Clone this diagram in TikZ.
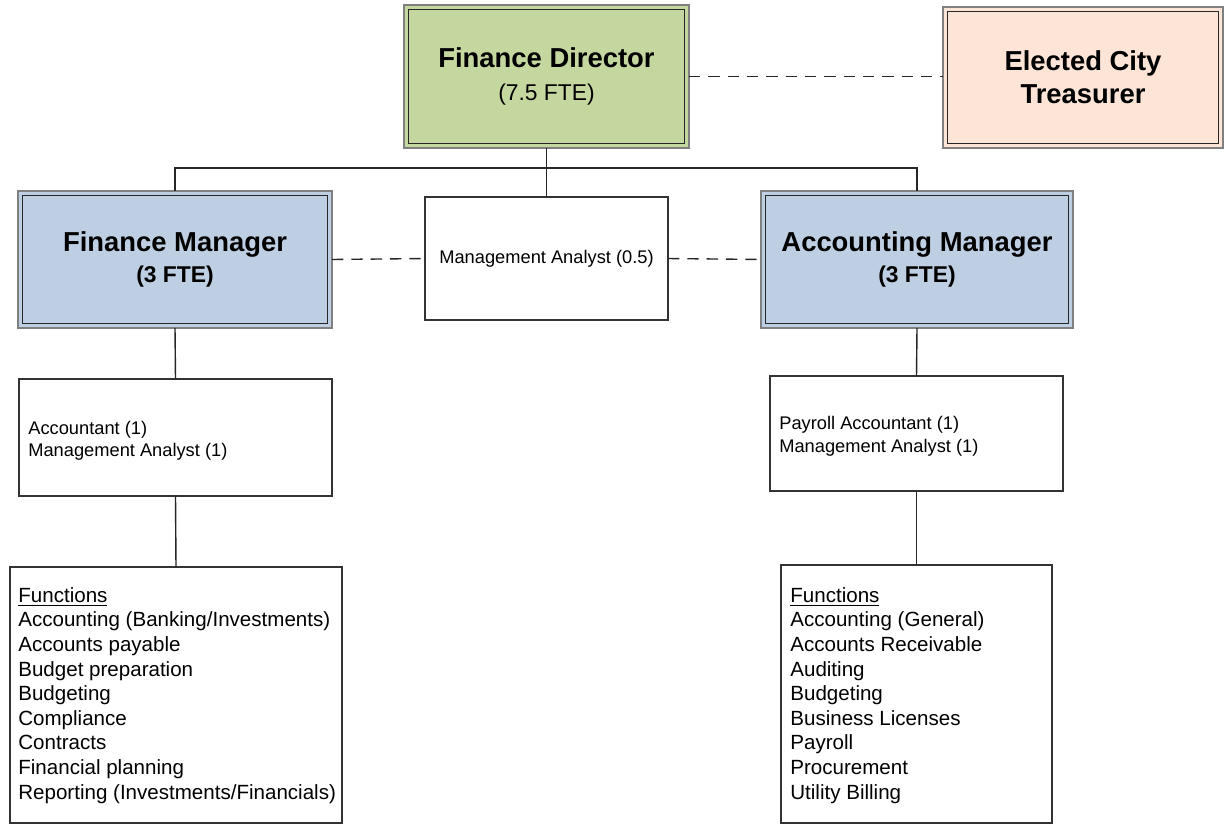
\documentclass[tikz,border=0pt]{standalone}
\usepackage{fontspec}
\setmainfont{Liberation Sans}
\definecolor{fdgreen}{HTML}{C4D79F}
\definecolor{trpeach}{HTML}{FCE4D6}
\definecolor{mgrblue}{HTML}{BFCFE3}
\newcommand\innerframe[1]{\draw[draw=black!85, line width=0.9pt] ([shift={(4.5,4.5)}]#1.north west) rectangle ([shift={(-4.5,-4.5)}]#1.south east);}
\begin{document}
\begin{tikzpicture}[x=0.02cm,y=-0.02cm,
  dblbox/.style={draw=black!50, line width=1.3pt, inner sep=0pt, outer sep=0pt, align=center},
  plainbox/.style={draw=black!80, line width=0.8pt, inner sep=0pt, outer sep=0pt, fill=white},
  conn/.style={draw=black!85, line width=0.8pt},
  dashconn/.style={draw=black!85, line width=0.8pt, dash pattern=on 6.5pt off 4.5pt},
  small/.style={font=\fontsize{10.4}{12.6}\selectfont},
  list/.style={font=\fontsize{11.7}{14}\selectfont, align=left, inner sep=0pt, anchor=north west}
]
\useasboundingbox (0,0) rectangle (1230,825);

% top boxes
\node[dblbox, fill=fdgreen, minimum width=5.70cm, minimum height=2.86cm,
      font=\fontsize{15.6}{18.7}\selectfont] (fd) at (546.5,76.5)
  {{\bfseries Finance Director}\\{\fontsize{13}{18.7}\selectfont (7.5 FTE)}};
\innerframe{fd}
\node[dblbox, fill=trpeach, minimum width=5.60cm, minimum height=2.82cm,
      font=\fontsize{15.6}{18.7}\selectfont\bfseries] (tr) at (1083,77.5)
  {Elected City\\Treasurer};
\innerframe{tr}

% managers
\node[dblbox, fill=mgrblue, minimum width=6.28cm, minimum height=2.74cm,
      font=\fontsize{15.6}{17.6}\selectfont\bfseries] (fm) at (175,259.5)
  {Finance Manager\\{\fontsize{13}{17.6}\selectfont (3 FTE)}};
\innerframe{fm}
\node[dblbox, fill=mgrblue, minimum width=6.24cm, minimum height=2.74cm,
      font=\fontsize{15.6}{17.6}\selectfont\bfseries] (am) at (917,259.5)
  {Accounting Manager\\{\fontsize{13}{17.6}\selectfont (3 FTE)}};
\innerframe{am}

\node[plainbox, minimum width=4.86cm, minimum height=2.46cm, small] (ma) at (546.5,258.5)
  {Management Analyst (0.5)};

% staff boxes
\node[plainbox, minimum width=6.26cm, minimum height=2.34cm] (fs) at (175.5,437.5) {};
\node[align=left, inner sep=0pt, anchor=north west, font=\fontsize{10.4}{12.6}\selectfont] (fstext) at (28,421)
  {Accountant (1)\\Management Analyst (1)};
\node[plainbox, minimum width=5.86cm, minimum height=2.30cm] (as) at (916.5,433.5) {};
\node[align=left, inner sep=0pt, anchor=north west, font=\fontsize{10.4}{13}\selectfont] (astext) at (779,416)
  {Payroll Accountant (1)\\Management Analyst (1)};

% function boxes
\node[plainbox, minimum width=6.64cm, minimum height=5.12cm] (ff) at (176,695) {};
\node[list] (fftext) at (18,587)
  {\underline{Functions}\\Accounting (Banking/Investments)\\Accounts payable\\Budget preparation\\Budgeting\\Compliance\\Contracts\\Financial planning\\Reporting (Investments/Financials)};
\node[plainbox, minimum width=5.42cm, minimum height=5.16cm] (af) at (916.5,694) {};
\node[list] (aftext) at (790,587)
  {\underline{Functions}\\Accounting (General)\\Accounts Receivable\\Auditing\\Budgeting\\Business Licenses\\Payroll\\Procurement\\Utility Billing};

% connectors
\coordinate (bus) at (546.5,168);
\draw[conn] (fd.south) -- (bus) -- (ma.north);
\draw[conn] (fm.north) -- (fm.north |- bus) -- (am.north |- bus) -- (am.north);
\draw[dashconn] (fd.east) -- (tr.west |- fd.east);
\draw[dashconn] (fm.east) -- (ma.west);
\draw[dashconn] (ma.east) -- (am.west);
\draw[conn] (fm.south) -- (fs.north);
\draw[conn] (fs.south) -- (ff.north);
\draw[conn] (am.south) -- (as.north);
\draw[conn] (as.south) -- (af.north);
\end{tikzpicture}
\end{document}
